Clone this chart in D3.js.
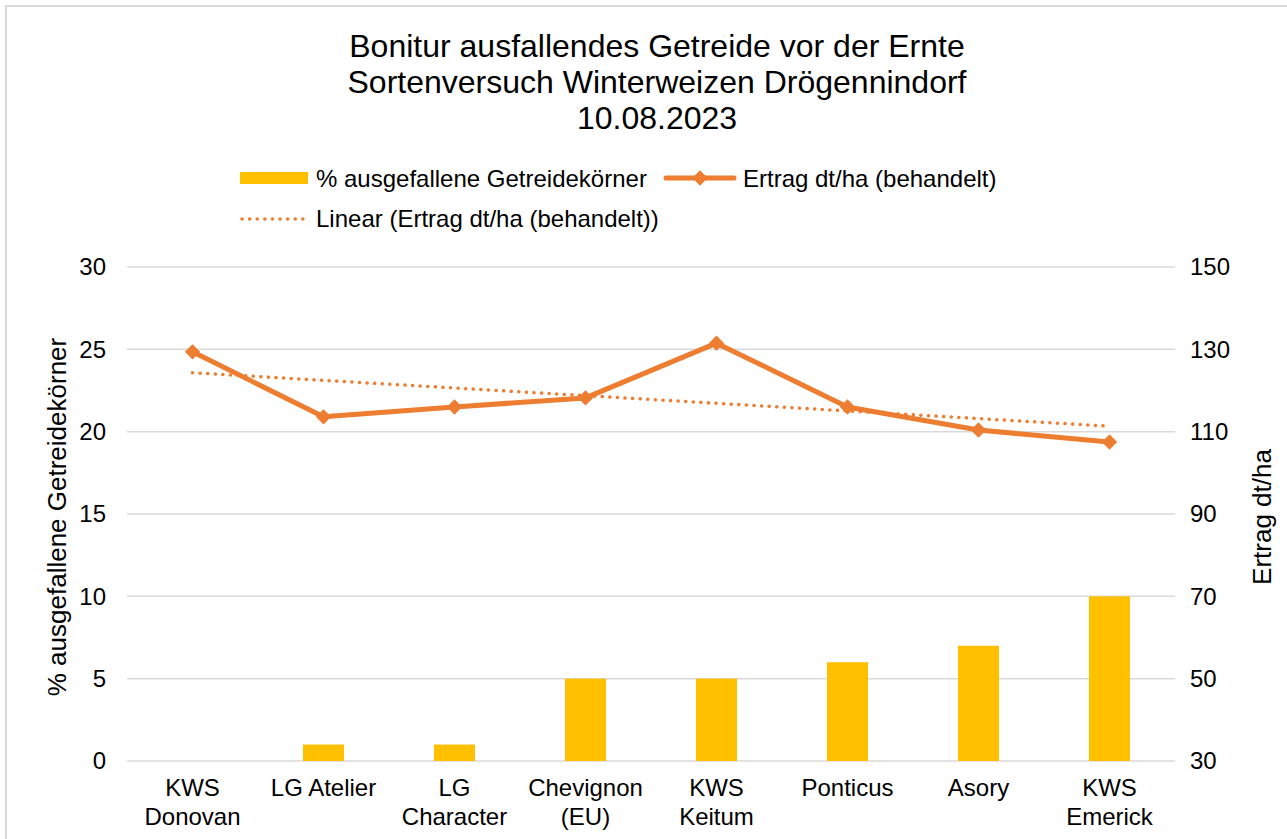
<!DOCTYPE html>
<html>
<head>
<meta charset="utf-8">
<script src="https://cdn.jsdelivr.net/npm/d3@7"></script>
<style>
  body { margin: 0; background: #fff; }
  svg { font-family: "Liberation Sans", Arial, sans-serif; }
</style>
</head>
<body>
<svg id="chart" width="1287" height="839"></svg>
<script>
const sorten = [["KWS", "Donovan"], ["LG Atelier"], ["LG", "Character"], ["Chevignon", "(EU)"],
                ["KWS", "Keitum"], ["Ponticus"], ["Asory"], ["KWS", "Emerick"]]
const ausfall = [0, 1, 1, 5, 5, 6, 7, 10]
const ertrag = [129.4, 113.6, 116, 118.2, 131.5, 116, 110.4, 107.5]
const leftTicks = [0, 5, 10, 15, 20, 25, 30]
const rightTicks = [30, 50, 70, 90, 110, 130, 150]
const titleLines = ["Bonitur ausfallendes Getreide vor der Ernte", "Sortenversuch Winterweizen Drögennindorf", "10.08.2023"]

const svg = d3.select("#chart")
const W = 1287, H = 839
const m = { left: 127, right: 1175, top: 267, bottom: 761 }
const gelb = "#FFC000", orange = "#ED7D31", grid = "#d9d9d9"

// chart border (top/left visible)
svg.append("rect").attr("x", 6).attr("y", 6).attr("width", W + 10).attr("height", H + 10)
  .attr("fill", "none").attr("stroke", grid).attr("stroke-width", 2)

const idx = d3.range(sorten.length)
const x = d3.scaleBand().domain(idx).range([m.left, m.right])
const yL = d3.scaleLinear().domain([0, 30]).range([m.bottom, m.top])
const yR = d3.scaleLinear().domain([30, 150]).range([m.bottom, m.top])

// title
svg.append("text").attr("text-anchor", "middle").attr("font-size", 32).attr("fill", "#000")
  .selectAll("tspan").data(titleLines).enter().append("tspan")
    .attr("x", 657).attr("y", (d, i) => 57 + i * 36).text(d => d)

// gridlines
svg.append("g").selectAll("line").data(leftTicks).enter().append("line")
  .attr("x1", m.left).attr("x2", m.right)
  .attr("y1", d => yL(d)).attr("y2", d => yL(d))
  .attr("stroke", grid).attr("stroke-width", 1.5)

// left axis
const axL = svg.append("g").attr("transform", `translate(${m.left},0)`)
  .call(d3.axisLeft(yL).tickValues(leftTicks).tickSize(0).tickPadding(21))
axL.select(".domain").remove()
axL.selectAll("text").attr("font-size", 24).attr("fill", "#000").attr("font-family", "Liberation Sans, Arial")

// right axis
const axR = svg.append("g").attr("transform", `translate(${m.right},0)`)
  .call(d3.axisRight(yR).tickValues(rightTicks).tickSize(0).tickPadding(15))
axR.select(".domain").remove()
axR.selectAll("text").attr("font-size", 24).attr("fill", "#000").attr("font-family", "Liberation Sans, Arial")

// axis titles
svg.append("text").attr("transform", `translate(66,${(m.top + m.bottom) / 2 + 3}) rotate(-90)`)
  .attr("text-anchor", "middle").attr("font-size", 26).text("% ausgefallene Getreidekörner")
svg.append("text").attr("transform", `translate(1271,${(m.top + m.bottom) / 2 + 3}) rotate(-90)`)
  .attr("text-anchor", "middle").attr("font-size", 26).text("Ertrag dt/ha")

// bars
const bw = 41
svg.append("g").selectAll("rect").data(idx.filter(i => ausfall[i] > 0)).enter().append("rect")
  .attr("x", i => x(i) + x.bandwidth() / 2 - bw / 2)
  .attr("width", bw)
  .attr("y", i => yL(ausfall[i]))
  .attr("height", i => yL(0) - yL(ausfall[i]))
  .attr("fill", gelb)

// category labels
const cat = svg.append("g").selectAll("text").data(idx).enter().append("text")
  .attr("text-anchor", "middle").attr("font-size", 24).attr("fill", "#000")
cat.selectAll("tspan").data(i => sorten[i].map(t => ({ t, i }))).enter().append("tspan")
  .attr("x", d => x(d.i) + x.bandwidth() / 2)
  .attr("y", (d, j) => 796 + j * 29)
  .text(d => d.t)

// linear trend (least squares, as the spreadsheet does)
const xs = idx.map(i => i + 1)
const mx = d3.mean(xs), my = d3.mean(ertrag)
const slope = d3.sum(xs, (v, k) => (v - mx) * (ertrag[k] - my)) / d3.sum(xs, v => (v - mx) ** 2)
const icpt = my - slope * mx
const cx = i => x(i) + x.bandwidth() / 2
svg.append("line")
  .attr("x1", cx(0)).attr("y1", yR(icpt + slope * 1))
  .attr("x2", cx(idx.length - 1)).attr("y2", yR(icpt + slope * idx.length))
  .attr("stroke", orange).attr("stroke-width", 3.5)
  .attr("stroke-dasharray", "0.1 7.5").attr("stroke-linecap", "round")

// yield line
svg.append("path").datum(idx)
  .attr("d", d3.line().x(cx).y(i => yR(ertrag[i])))
  .attr("fill", "none").attr("stroke", orange).attr("stroke-width", 5).attr("stroke-linejoin", "round")

const diamond = d3.symbol().type(d3.symbolDiamond2).size(150)
svg.append("g").selectAll("path").data(idx).enter().append("path")
  .attr("transform", i => `translate(${cx(i)},${yR(ertrag[i])})`)
  .attr("d", diamond).attr("fill", orange)

// legend
const lg = svg.append("g").attr("font-size", 24)
lg.append("rect").attr("x", 240).attr("y", 172).attr("width", 68).attr("height", 12).attr("fill", gelb)
lg.append("text").attr("x", 316).attr("y", 187).text("% ausgefallene Getreidekörner")
lg.append("line").attr("x1", 666).attr("x2", 734).attr("y1", 178).attr("y2", 178)
  .attr("stroke", orange).attr("stroke-width", 5).attr("stroke-linecap", "round")
lg.append("path").attr("transform", "translate(700,178)").attr("d", diamond).attr("fill", orange)
lg.append("text").attr("x", 743).attr("y", 187).text("Ertrag dt/ha (behandelt)")
lg.append("line").attr("x1", 242).attr("x2", 310).attr("y1", 219).attr("y2", 219)
  .attr("stroke", orange).attr("stroke-width", 3.5)
  .attr("stroke-dasharray", "0.1 7.5").attr("stroke-linecap", "round")
lg.append("text").attr("x", 316).attr("y", 227).text("Linear (Ertrag dt/ha (behandelt))")
</script>
</body>
</html>
